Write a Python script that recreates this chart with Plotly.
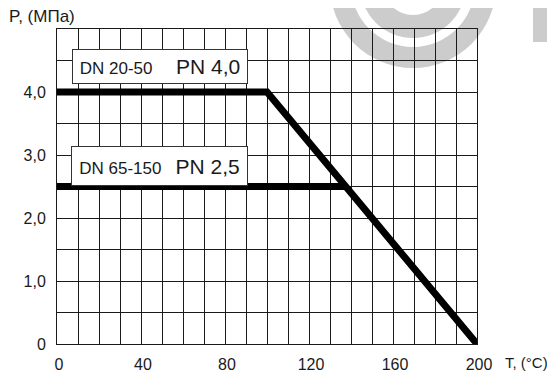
import plotly.graph_objects as go

# pressure / temperature curves
t_dn20 = [0, 100, 200]
p_dn20 = [4.0, 4.0, 0.0]
t_dn65 = [0, 137.5]
p_dn65 = [2.5, 2.5]

x_tickvals = [0, 40, 80, 120, 160, 200]
x_ticktext = ["0", "40", "80", "120", "160", "200"]
y_tickvals = [0, 1, 2, 3, 4]
y_ticktext = ["0", "1,0", "2,0", "3,0", "4,0"]

FONT = "Liberation Sans, Arial, Helvetica, sans-serif"
INK = "#1a1a1a"

# page has an 8px body margin, so the figure is shifted by that much
OFF = 8
W, H = 555 - OFF, 374 - OFF
# plot area in page pixels
L, R, T, B = 57, 477, 29, 344

def px_x(p):
    return (p - L) / (R - L)

def px_y(p):
    return (B - p) / (B - T)

fig = go.Figure()

fig.add_trace(go.Scatter(x=t_dn20, y=p_dn20, mode="lines",
                         line=dict(color="black", width=7), hoverinfo="skip"))
fig.add_trace(go.Scatter(x=t_dn65, y=p_dn65, mode="lines",
                         line=dict(color="black", width=7), hoverinfo="skip"))

grid = "#1a1a1a"

fig.update_layout(
    width=W, height=H, autosize=False,
    margin=dict(l=L - OFF, r=W - (R - OFF), t=T - OFF, b=H - (B - OFF), pad=0),
    paper_bgcolor="white",
    plot_bgcolor="rgba(0,0,0,0)",
    showlegend=False,
    font=dict(family=FONT, size=16, color=INK),
    xaxis=dict(range=[0, 200], tickmode="array", tickvals=x_tickvals, ticktext=x_ticktext,
               showgrid=True, gridcolor=grid, gridwidth=1, zeroline=False,
               showline=True, mirror=True, linecolor=grid, linewidth=1,
               ticks="", ticklabelstandoff=6, ticklabelshift=2, automargin=False,
               minor=dict(tick0=0, dtick=10, showgrid=True, gridcolor=grid, gridwidth=1),
               fixedrange=True),
    yaxis=dict(range=[0, 5], tickmode="array", tickvals=y_tickvals, ticktext=y_ticktext,
               showgrid=True, gridcolor=grid, gridwidth=1, zeroline=False,
               showline=True, mirror=True, linecolor=grid, linewidth=1,
               ticks="", ticklabelstandoff=7, automargin=False,
               minor=dict(tick0=0, dtick=0.5, showgrid=True, gridcolor=grid, gridwidth=1),
               fixedrange=True),
)

# faint (c)-logo watermark behind the grid
wm = "#cccccc"
cx, cy = 413, -15
for r, col in [(83, wm), (62, "white"), (53, wm), (30, "white")]:
    fig.add_shape(type="circle", xref="paper", yref="paper", layer="below",
                  x0=px_x(cx - r), x1=px_x(cx + r), y0=px_y(cy + r), y1=px_y(cy - r),
                  fillcolor=col, line_width=0)
fig.add_shape(type="rect", xref="paper", yref="paper", layer="below",
              x0=px_x(533), x1=px_x(560), y0=px_y(42), y1=px_y(-5),
              fillcolor=wm, line_width=0)

# labelled boxes
fig.add_annotation(x=49, y=4.4, xref="x", yref="y", showarrow=False,
                   text="DN 20-50" + "&#160;" * 5 + "<span style='font-size:21px'>PN 4,0</span>",
                   bgcolor="white", bordercolor="#333", borderwidth=1, borderpad=2,
                   width=170, height=29, font=dict(size=17, color=INK))
fig.add_annotation(x=49, y=2.82, xref="x", yref="y", showarrow=False,
                   text="DN 65-150" + "&#160;" * 3 + "<span style='font-size:21px'>PN 2,5</span>",
                   bgcolor="white", bordercolor="#333", borderwidth=1, borderpad=2,
                   width=171, height=34, font=dict(size=17, color=INK))

# axis titles
fig.add_annotation(x=px_x(7), y=px_y(17), xref="paper", yref="paper", showarrow=False,
                   xanchor="left", yanchor="middle", text="P, (МПа)",
                   font=dict(size=17, color=INK))
fig.add_annotation(x=px_x(503), y=px_y(362), xref="paper", yref="paper", showarrow=False,
                   xanchor="left", yanchor="middle", text="T, (°C)",
                   font=dict(size=15, color=INK))

fig.write_html("out.html")
